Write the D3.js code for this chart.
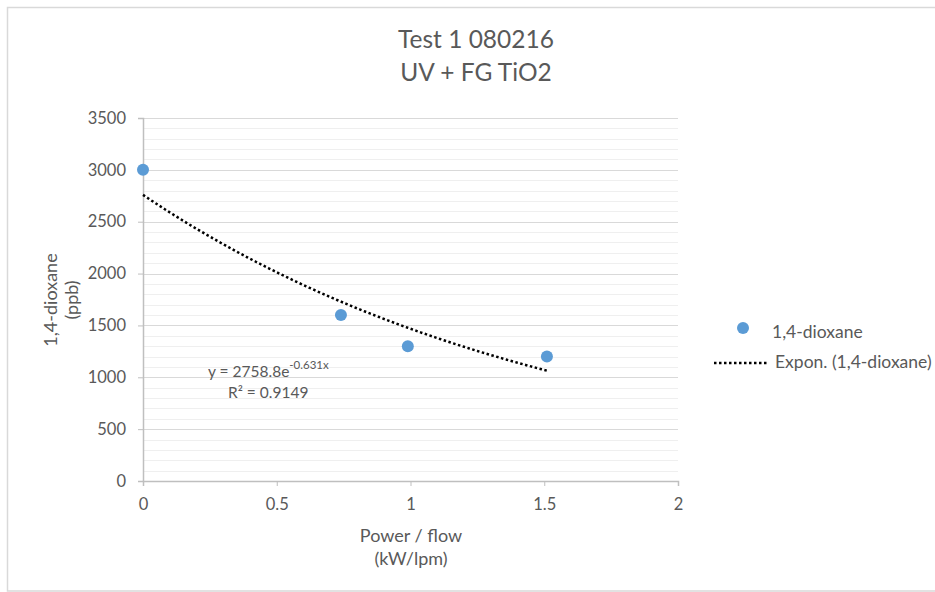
<!DOCTYPE html>
<html>
<head>
<meta charset="utf-8">
<script src="https://cdn.jsdelivr.net/npm/d3@7"></script>
<style>
body { margin: 0; background: #fff; }
svg text { font-family: Lato, "Open Sans", sans-serif; fill: #595959; }
</style>
</head>
<body>
<div id="chart"></div>
<script>
// data
var powerFlow = [0, 0.74, 0.99, 1.51];
var dioxane = [3000, 1600, 1300, 1200];
var yTicks = [0, 500, 1000, 1500, 2000, 2500, 3000, 3500];
var xTicks = [0, 0.5, 1, 1.5, 2];
var titleLines = ["Test 1 080216", "UV + FG TiO2"];
var trendA = 2758.8, trendB = -0.631;

var W = 935, H = 592;
var svg = d3.select("#chart").append("svg").attr("width", W).attr("height", H);

// chart border
svg.append("rect").attr("x", 7.5).attr("y", 7.5).attr("width", W + 10).attr("height", H - 8.5)
	.attr("fill", "none").attr("stroke", "#d9d9d9").attr("stroke-width", 1.5);

var x = d3.scaleLinear().domain([0, 2]).range([143, 678]);
var y = d3.scaleLinear().domain([0, 3500]).range([481, 118]);

// minor grid
svg.append("g").selectAll("line").data(d3.range(100, 3500, 100).filter(function(d){ return d % 500 != 0; }))
	.enter().append("line")
	.attr("x1", x(0)).attr("x2", x(2))
	.attr("y1", function(d){ return Math.round(y(d)) + 0.5; })
	.attr("y2", function(d){ return Math.round(y(d)) + 0.5; })
	.attr("stroke", "#efefef");

// major grid
svg.append("g").selectAll("line").data(yTicks.slice(1))
	.enter().append("line")
	.attr("x1", x(0)).attr("x2", x(2))
	.attr("y1", function(d){ return Math.round(y(d)) + 0.5; })
	.attr("y2", function(d){ return Math.round(y(d)) + 0.5; })
	.attr("stroke", "#d9d9d9");

// axes
var yAxis = svg.append("g").attr("transform", "translate(" + x(0) + ",0)")
	.call(d3.axisLeft(y).tickValues(yTicks).tickSize(5).tickPadding(12).tickFormat(d3.format("d")));
var xAxis = svg.append("g").attr("transform", "translate(0," + y(0) + ")")
	.call(d3.axisBottom(x).tickValues(xTicks).tickSize(5).tickPadding(12).tickFormat(function(d){ return d; }));
[yAxis, xAxis].forEach(function(a){
	a.attr("font-size", null).attr("font-family", null);
	a.select(".domain").attr("stroke", "#bfbfbf").attr("stroke-width", 1.5);
	a.selectAll(".tick line").attr("stroke", "#bfbfbf");
	a.selectAll(".tick text").style("font-size", "16.5px").style("fill", "#595959");
});

// trendline
var trendX = d3.range(0, d3.max(powerFlow) + 0.0001, 0.01);
var line = d3.line().x(function(d){ return x(d); }).y(function(d){ return y(trendA * Math.exp(trendB * d)); });
svg.append("path").datum(trendX).attr("d", line)
	.attr("fill", "none").attr("stroke", "#000").attr("stroke-width", 2.5)
	.attr("stroke-dasharray", "2.5,2.5");

// points
svg.append("g").selectAll("circle").data(powerFlow).enter().append("circle")
	.attr("cx", function(d){ return x(d); })
	.attr("cy", function(d, i){ return y(dioxane[i]); })
	.attr("r", 6).attr("fill", "#5b9bd5");

// equation
var eq = svg.append("text").attr("x", 208).attr("y", 377).style("font-size", "15.5px");
eq.append("tspan").text("y = 2758.8e");
eq.append("tspan").attr("dy", -8).style("font-size", "11.5px").text("-0.631x");
svg.append("text").attr("x", 228).attr("y", 398).style("font-size", "15.5px").text("R² = 0.9149");

// title
svg.append("g").selectAll("text").data(titleLines).enter().append("text")
	.attr("x", 476).attr("y", function(d, i){ return 48 + i * 33; })
	.attr("text-anchor", "middle").style("font-size", "24.5px").text(function(d){ return d; });

// axis titles
svg.append("text").attr("transform", "translate(57,300) rotate(-90)").attr("text-anchor", "middle")
	.style("font-size", "18px").text("1,4-dioxane");
svg.append("text").attr("transform", "translate(78,300) rotate(-90)").attr("text-anchor", "middle")
	.style("font-size", "18px").text("(ppb)");
svg.append("text").attr("x", 411).attr("y", 542).attr("text-anchor", "middle").style("font-size", "18px").text("Power / flow");
svg.append("text").attr("x", 411).attr("y", 565).attr("text-anchor", "middle").style("font-size", "18px").text("(kW/lpm)");

// legend
var lg = svg.append("g");
lg.append("circle").attr("cx", 743).attr("cy", 328).attr("r", 6).attr("fill", "#5b9bd5");
lg.append("text").attr("x", 772).attr("y", 338).style("font-size", "17.5px").text("1,4-dioxane");
lg.append("line").attr("x1", 714).attr("x2", 768).attr("y1", 363).attr("y2", 363)
	.attr("stroke", "#000").attr("stroke-width", 2.5).attr("stroke-dasharray", "2.5,2.5");
lg.append("text").attr("x", 775).attr("y", 368).style("font-size", "17.5px").text("Expon. (1,4-dioxane)");
</script>
</body>
</html>
